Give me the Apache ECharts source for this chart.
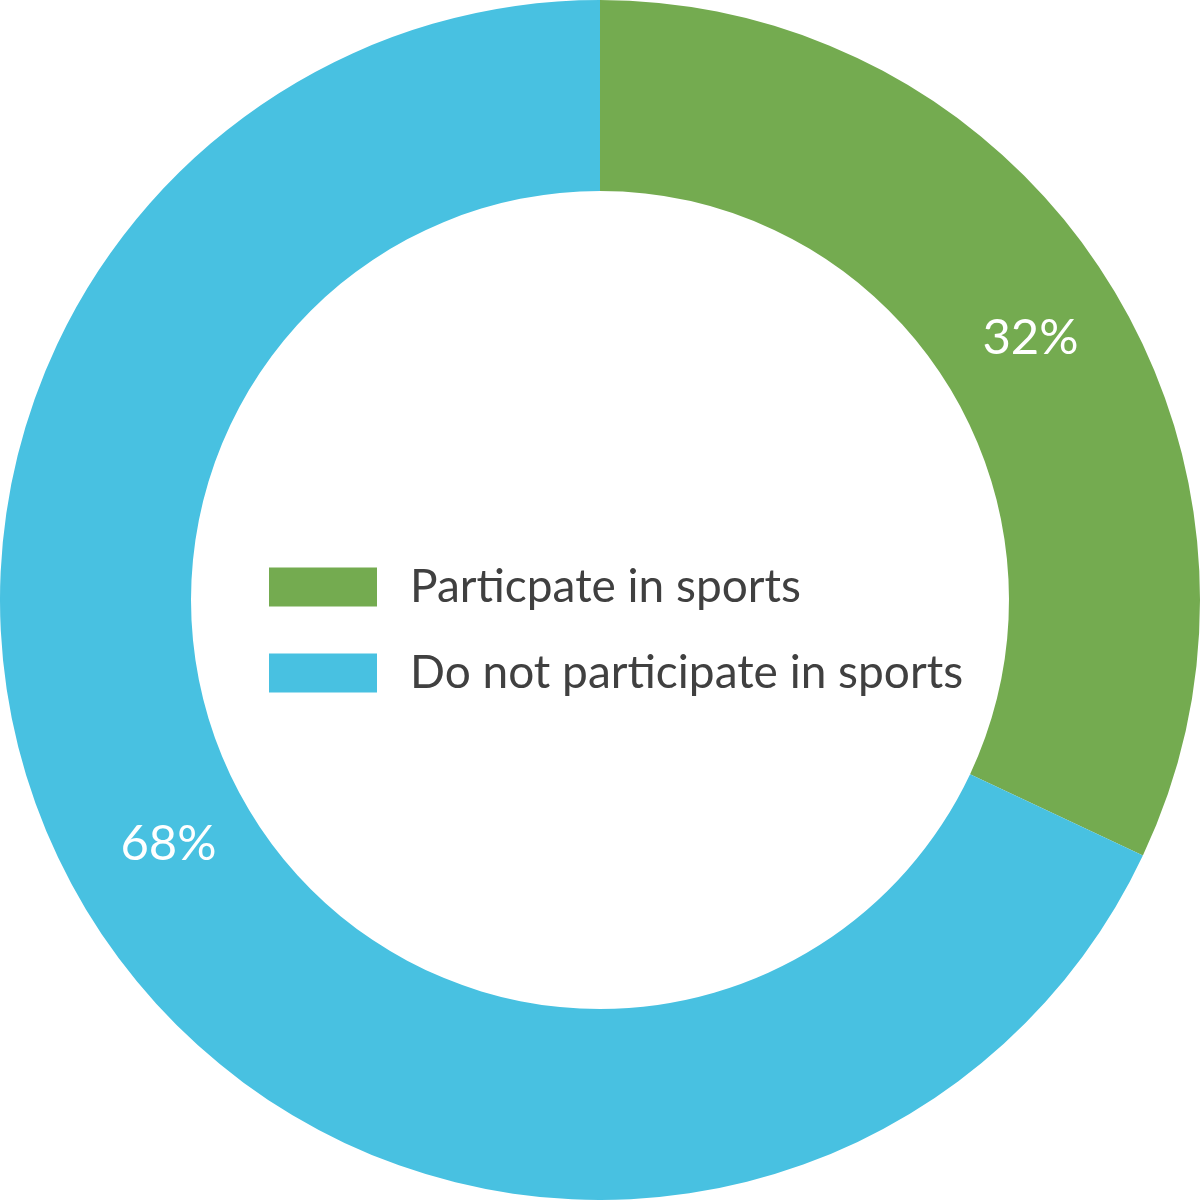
<!DOCTYPE html>
<html>
<head>
<meta charset="utf-8">
<script src="https://cdn.jsdelivr.net/npm/echarts@6/dist/echarts.min.js"></script>
<style>
html,body{margin:0;padding:0;background:#fff;}
#chart{width:1200px;height:1200px;}
</style>
</head>
<body>
<div id="chart"></div>
<script>
const categories = ['Particpate in sports', 'Do not participate in sports'];
const values = [32, 68];
const colors = ['#74AB50', '#48C1E1'];
// per-label nudge (rich-text padding) to match reference placement
const labelPadding = [[20, 0, 0, 4], [0, 6, 56, 0]];

const chart = echarts.init(document.getElementById('chart'));
chart.setOption({
  animation: false,
  backgroundColor: '#ffffff',
  color: colors,
  legend: {
    orient: 'vertical',
    left: 269,
    top: 564,
    padding: 0,
    itemWidth: 108,
    itemHeight: 39,
    itemGap: 40,
    icon: 'rect',
    data: categories,
    textStyle: {
      fontFamily: 'Lato',
      fontSize: 46,
      lineHeight: 39,
      color: '#404040',
      padding: [0, 0, 0, 28]
    }
  },
  series: [{
    type: 'pie',
    center: [600, 600],
    radius: [409, 600],
    startAngle: 90,
    clockwise: true,
    avoidLabelOverlap: false,
    emphasis: { disabled: true },
    labelLine: { show: false },
    itemStyle: { borderWidth: 0 },
    data: categories.map((c, i) => ({
      name: c,
      value: values[i],
      label: {
        show: true,
        position: 'inside',
        formatter: '{v|{d}%}',
        rich: {
          v: {
            color: '#ffffff',
            fontFamily: 'Lato',
            fontSize: 49,
            padding: labelPadding[i]
          }
        }
      }
    }))
  }]
});
</script>
</body>
</html>
